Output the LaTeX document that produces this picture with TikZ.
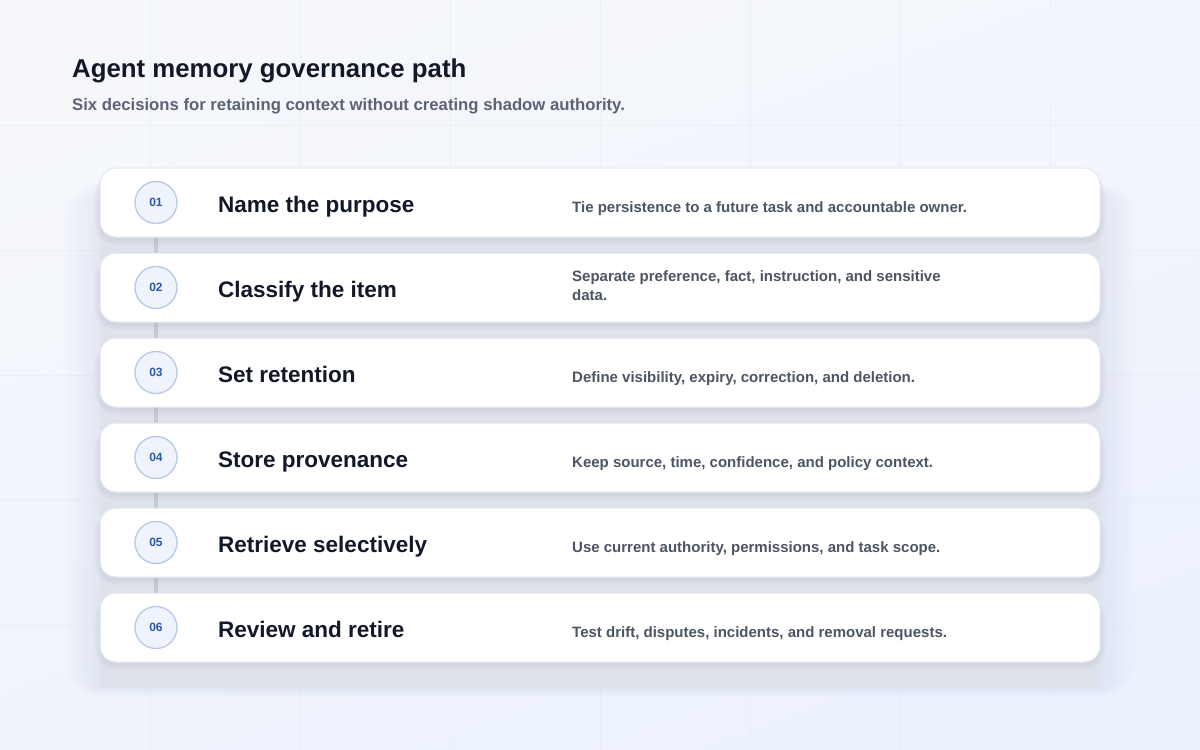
\documentclass[tikz,border=0pt]{standalone}
\usepackage{fontspec}
\setmainfont{Liberation Sans}
\usetikzlibrary{positioning}

\definecolor{ink}{HTML}{111827}
\definecolor{slate}{HTML}{4B5563}
\definecolor{subgray}{HTML}{5B6474}
\definecolor{bgtop}{HTML}{F5F7FB}
\definecolor{bgbot}{HTML}{ECF2FD}
\definecolor{gridgray}{HTML}{E6EBF3}
\definecolor{panelgray}{HTML}{DEE2EA}
\definecolor{shadowtint}{HTML}{8A93A6}
\definecolor{cardline}{HTML}{E2E6EE}
\definecolor{dotfill}{HTML}{EEF3FC}
\definecolor{dotline}{HTML}{B7C8E8}
\definecolor{dotink}{HTML}{2F58A6}
\definecolor{spinegray}{HTML}{C5CAD3}

\pgfdeclarelayer{back}
\pgfdeclarelayer{links}
\pgfsetlayers{back,links,main}

\tikzset{
    stepcard/.style={draw=cardline, line width=1pt, fill=white, rounded corners=16pt,
        minimum width=1000pt, minimum height=69pt, inner sep=0pt},
    numdot/.style={circle, draw=dotline, line width=1.3pt, fill=dotfill, minimum size=42pt, inner sep=0pt,
        text=dotink, font=\fontsize{12}{14}\selectfont\bfseries},
    steptitle/.style={anchor=base west, inner sep=0pt, text=ink, font=\fontsize{22.5}{27}\selectfont\bfseries},
    stepnote/.style={anchor=base west, align=left, inner sep=0pt, text=slate, font=\fontsize{15}{19}\selectfont\bfseries},
    spine/.style={draw=spinegray, line width=4pt},
}

\begin{document}
\begin{tikzpicture}[x=1pt,y=-1pt]
    \useasboundingbox (0,0) rectangle (1200,750);
    \begin{pgfonlayer}{back}
        \shade[top color=bgtop, bottom color=bgbot, shading angle=20] (0,0) rectangle (1200,750);
        \foreach \gx in {150,300,...,1050} \draw[gridgray, opacity=0.55, line width=1pt] (\gx,0) -- (\gx,750);
        \foreach \gy in {125,250,...,625} \draw[gridgray, opacity=0.55, line width=1pt] (0,\gy) -- (1200,\gy);
        % soft edge round the panel
        \foreach \s in {5,10,...,35}
            \fill[shadowtint, opacity=0.01, rounded corners=\s pt] (100-\s,200-\s/2) rectangle (1100+\s,688+\s/4);
        \fill[panelgray] (100,190) rectangle (1100,688);
    \end{pgfonlayer}

    \node[anchor=base west, inner sep=0pt, text=ink, font=\fontsize{25.8}{31}\selectfont\bfseries]
        (title) at (72,77) {Agent memory governance path};
    \node[anchor=base west, inner sep=0pt, text=subgray, font=\fontsize{16.7}{20}\selectfont\bfseries]
        (subtitle) at (72,110) {Six decisions for retaining context without creating shadow authority.};

    \foreach \i/\yc/\ny/\head/\note in {
        01/202.5/212.5/Name the purpose/{Tie persistence to a future task and accountable owner.},
        02/287.5/300.5/Classify the item/{Separate preference, fact, instruction, and sensitive\\data.},
        03/372.5/382.5/Set retention/{Define visibility, expiry, correction, and deletion.},
        04/457.5/467.5/Store provenance/{Keep source, time, confidence, and policy context.},
        05/542.5/552.5/Retrieve selectively/{Use current authority, permissions, and task scope.},
        06/627.5/637.5/Review and retire/{Test drift, disputes, incidents, and removal requests.}} {
        \foreach \s in {2,4,6}
            \fill[shadowtint, opacity=0.045, rounded corners=16pt+\s pt]
                (100-\s,\yc-30) rectangle (1100+\s,\yc+36.5+\s);
        \node[stepcard] (card\i) at (600,\yc) {};
        \node[numdot] (num\i) at (156,\yc) {\i};
        \node[steptitle] (head\i) at (218,\yc+9.5) {\head};
        \node[stepnote] (note\i) at (572,\ny) {\note};
    }

    \begin{pgfonlayer}{links}
        \draw[spine] (num01) -- (num02);
        \draw[spine] (num02) -- (num03);
        \draw[spine] (num03) -- (num04);
        \draw[spine] (num04) -- (num05);
        \draw[spine] (num05) -- (num06);
    \end{pgfonlayer}
\end{tikzpicture}
\end{document}
